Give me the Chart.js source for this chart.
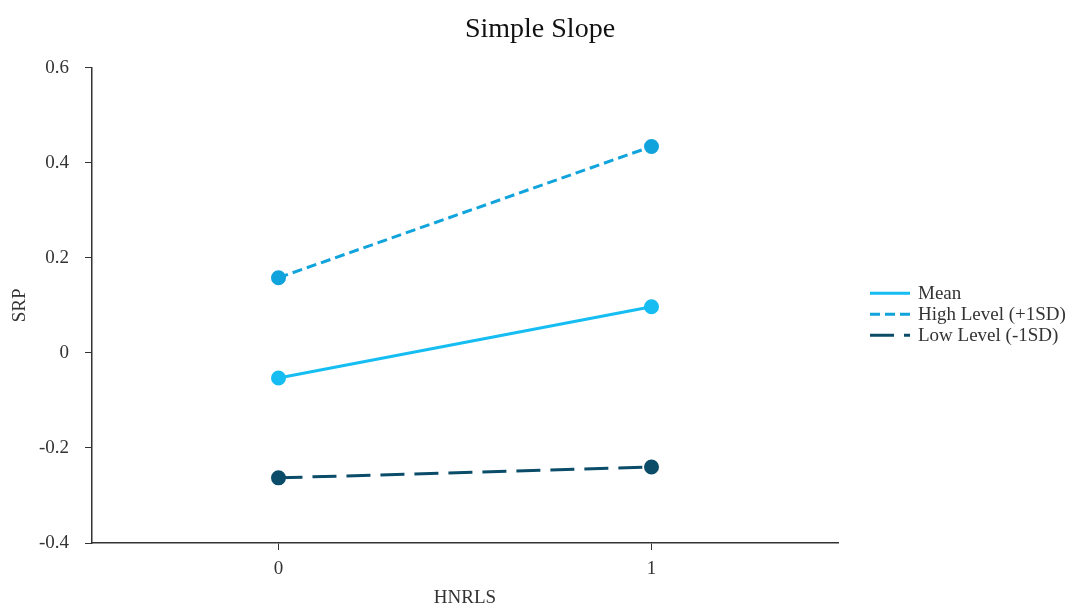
<!DOCTYPE html>
<html>
<head>
<meta charset="utf-8">
<script src="https://cdn.jsdelivr.net/npm/chart.js@4/dist/chart.umd.min.js"></script>
<style>
    html, body { margin: 0; padding: 0; background: #fff; }
    #wrap { width: 1067px; height: 605px; }
</style>
</head>
<body>
<div id="wrap"><canvas id="slopeChart" width="1067" height="605"></canvas></div>
<script>
const xLevels = [0, 1];
const meanValues = [-0.053, 0.097];
const highValues = [0.158, 0.434];
const lowValues = [-0.263, -0.240];
const yTicks = [-0.4, -0.2, 0, 0.2, 0.4, 0.6];

const serif = "'Liberation Serif', 'Times New Roman', serif";

function toPoints(values) {
    return xLevels.map((x, i) => ({ x: x, y: values[i] }));
}

// legend drawn by hand so the dashes show and it sits where the original does
const sideLegend = {
    id: 'sideLegend',
    afterDraw(chart) {
        const c = chart.ctx;
        const area = chart.chartArea;
        const x0 = area.right + 32;
        let y = (area.top + area.bottom) / 2 - 12;
        c.save();
        c.font = "19px " + serif;
        c.textBaseline = 'middle';
        chart.data.datasets.forEach(ds => {
            c.strokeStyle = ds.borderColor;
            c.lineWidth = ds.borderWidth;
            c.setLineDash(ds.borderDash || []);
            c.beginPath();
            c.moveTo(x0, y);
            c.lineTo(x0 + 40, y);
            c.stroke();
            c.setLineDash([]);
            c.fillStyle = '#333';
            c.fillText(ds.label, x0 + 48, y + 1);
            y += 21;
        });
        c.restore();
    }
};

const ctx = document.getElementById("slopeChart").getContext("2d");
const chartConfig = {
    type: "line",
    data: {
        datasets: [{
            label: "Mean",
            data: toPoints(meanValues),
            borderColor: "#16bdf2",
            backgroundColor: "#16bdf2",
            borderWidth: 3,
            pointRadius: 6,
            pointHoverRadius: 6
        }, {
            label: "High Level (+1SD)",
            data: toPoints(highValues),
            borderColor: "#10a3dc",
            backgroundColor: "#10a3dc",
            borderWidth: 3,
            borderDash: [10, 5],
            pointRadius: 6,
            pointHoverRadius: 6
        }, {
            label: "Low Level (-1SD)",
            data: toPoints(lowValues),
            borderColor: "#0b4c69",
            backgroundColor: "#0b4c69",
            borderWidth: 3,
            borderDash: [24, 10],
            pointRadius: 6,
            pointHoverRadius: 6
        }]
    },
    options: {
        responsive: false,
        animation: false,
        layout: { padding: { left: 13, right: 0, top: 0, bottom: 0 } },
        plugins: {
            title: {
                display: true,
                text: "Simple Slope",
                color: "#111",
                font: { family: serif, size: 28, weight: "normal", lineHeight: 1.2 },
                padding: { top: 13, bottom: 21 }
            },
            legend: { display: false },
            tooltip: { enabled: false }
        },
        scales: {
            x: {
                type: "linear",
                min: -0.5,
                max: 1.5,
                afterBuildTicks: (axis) => { axis.ticks = xLevels.map(v => ({ value: v })); },
                afterFit: (axis) => { axis.height = 62; },
                grid: { drawOnChartArea: false, drawTicks: true, tickLength: 7, color: "#333" },
                border: { color: "#333", width: 1.5 },
                ticks: { color: "#333", font: { family: serif, size: 19, lineHeight: 1 }, padding: 10 },
                title: { display: true, text: "HNRLS", color: "#333", font: { family: serif, size: 19, lineHeight: 1 }, padding: { top: 0, bottom: -3 } }
            },
            y: {
                min: -0.4,
                max: 0.6,
                afterBuildTicks: (axis) => { axis.ticks = yTicks.map(v => ({ value: v })); },
                afterFit: (axis) => { axis.width = 79; },
                grid: { drawOnChartArea: false, drawTicks: true, tickLength: 7, color: "#333" },
                border: { color: "#333", width: 1.5 },
                ticks: {
                    color: "#333",
                    font: { family: serif, size: 19, lineHeight: 1 },
                    padding: 16,
                    callback: (v) => String(Math.round(v * 10) / 10)
                },
                title: { display: true, text: "SRP", color: "#333", font: { family: serif, size: 19, lineHeight: 1 }, padding: { top: -2, bottom: 0 } }
            },
            // empty box on the right that keeps room for the legend
            legendRoom: {
                type: "linear",
                position: "right",
                display: true,
                afterFit: (axis) => { axis.width = 229; },
                grid: { display: false },
                border: { display: false },
                ticks: { display: false }
            }
        }
    },
    plugins: [sideLegend]
};

new Chart(ctx, chartConfig);
</script>
</body>
</html>
